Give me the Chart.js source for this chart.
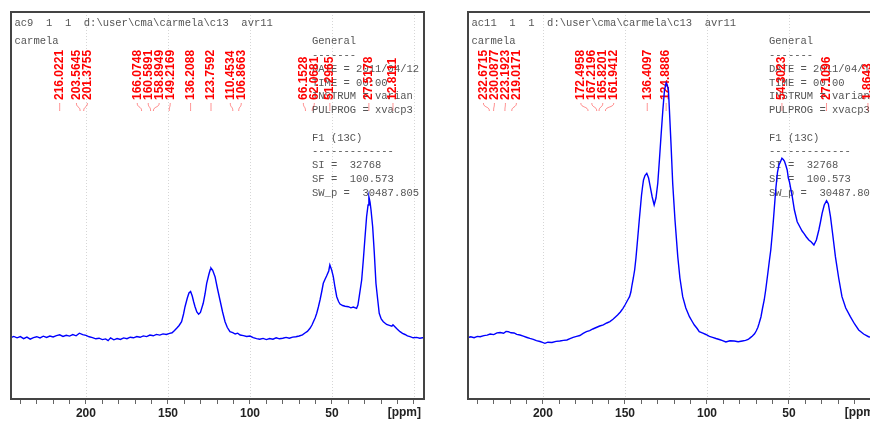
<!DOCTYPE html>
<html>
<head>
<meta charset="utf-8">
<script src="https://cdn.jsdelivr.net/npm/chart.js@4.4.0/dist/chart.umd.min.js"></script>
<style>
  html, body { margin: 0; padding: 0; background: #fff; overflow: hidden; width: 870px; height: 423px; }
  .panel { position: absolute; top: 0; width: 435px; height: 423px; }
  #p1 { left: 0; }
  #p2 { left: 457px; }
</style>
</head>
<body>
<div class="panel" id="p1"><canvas id="c1" width="435" height="423"></canvas></div>
<div class="panel" id="p2"><canvas id="c2" width="435" height="423"></canvas></div>
<script>
// axis
const ppmTicks = [240, 230, 220, 210, 200, 190, 180, 170, 160, 150, 140, 130, 120, 110, 100, 90, 80, 70, 60, 50, 40, 30, 20, 10, 0];
const labelledTicks = [200, 150, 100, 50];
const gridPpm = [200, 150, 100, 50, 0];

// ac9 spectrum
const ppm1 = [
  245.7, 244, 242, 240, 238, 236, 234, 232, 230, 228,
  226, 224, 222, 220, 218, 216, 214, 212, 210, 208,
  206, 204, 202, 200, 198, 196, 194, 192, 190, 188,
  186.5, 185, 183, 181, 179, 177, 175, 173, 171, 169,
  167, 165, 163, 161, 159, 157, 155, 153, 151, 149,
  147.5, 146, 144.7, 143.2, 141.7, 140.5, 139.6, 138.2, 137.2, 136.2,
  135.2, 134.3, 133.5, 132.4, 131.3, 130.2, 128.5, 127.4, 126.4, 125,
  124.2, 123.8, 122.8, 121.3, 119.9, 118.3, 116.7, 115.2, 113.8, 112.2,
  110.5, 109, 107.5, 106, 104, 102, 100, 98, 96, 94,
  92, 90, 88, 86, 84, 82, 80, 78, 76, 74,
  72, 70, 68, 66.5, 65, 63.4, 62.2, 61.4, 60.3, 59.3,
  58.3, 57.3, 56.3, 55.3, 54.3, 53.3, 52, 51.3, 50.2, 49.2,
  48.1, 47.1, 46, 45.1, 43.5, 42, 40, 38.5, 37, 35,
  34.2, 33.4, 31.9, 30.9, 29.9, 28.9, 28, 27.5, 26.8, 26.2,
  25.2, 24.2, 23.2, 22.1, 21.2, 20, 18.7, 16.7, 14.6, 13.5,
  12.8, 11.8, 10.6, 9.5, 8.5, 7, 5.5, 4, 2.4, 0.5,
  -1.6, -3.5, -6.1
];
const int1 = [
  0.5, 1.6, 0.2, 1.4, -0.6, 0.9, -1.2, 0.4, 1.3, 0.1,
  1.8, 0.6, 2.0, 1.1, 2.4, 3.2, 1.6, 2.7, 1.9, 3.4,
  2.2, 4.8, 3.4, 2.6, 1.2, 0.4, -0.8, -0.2, -1.6, -0.9,
  -2.6, 0.2, -1.8, -0.6, -1.4, 0.1, -0.7, 0.8, 0.2, 1.5,
  0.7, 2.1, 1.4, 2.9, 2.2, 3.6, 2.9, 4.1, 3.5, 4.6,
  5.2, 7.4, 9.7, 12.5, 16.3, 24, 31.3, 40, 45, 46.5,
  42, 36, 31.3, 26, 23.7, 25.5, 34.7, 44, 54.7, 64,
  68.5, 70, 68, 61.3, 50, 38, 26, 16.3, 10.5, 6.3,
  5.4, 4.0, 4.8, 3.0, 2.4, 1.5, 2.0, 0.4, -0.6, -1.3,
  -0.4, -1.6, -0.5, -1.2, 0.2, -0.8, -0.3, 0.6, -0.2, 0.9,
  1.2, 2.0, 3.1, 5.0, 6.6, 9.7, 13, 16, 20, 24.7,
  31, 38, 46, 54.7, 58.5, 62, 67, 73, 68, 61.3,
  50, 41.3, 36.5, 34, 32.5, 31.8, 31.3, 30.2, 31, 29.7,
  33, 41.3, 58, 78, 100, 121.3, 133, 141.3, 136, 128,
  111.3, 85, 54.7, 38, 24.7, 19, 16.3, 13.5, 12.4, 11.8,
  13.2, 11.6, 9.5, 7.8, 6.3, 4.6, 3.5, 2.1, 1.3, 0.2,
  0.6, -0.2, 0.5
];
const peaks1 = [216.0221, 203.5645, 201.3755, 166.0748, 160.5891, 158.8949, 149.2169, 136.2088,
  123.7592, 110.4534, 106.8663, 66.1528, 62.0681, 51.2965, 27.5178, 12.8111];

// ac11 spectrum
const ppm2 = [
  245.7, 244, 242, 240, 238.3, 236, 234, 232.2, 230, 228,
  226.1, 224, 222.5, 221.1, 219.5, 217.6, 216, 214, 212, 209.7,
  208, 205.9, 204, 201.8, 200.3, 198.8, 197, 194.5, 192, 189.7,
  187.5, 185.4, 183.5, 181.6, 179.5, 177.5, 175.5, 173.5, 171.5, 169.6,
  167.5, 165.4, 163.2, 161.1, 159.2, 157.3, 155.8, 154.5, 152.8, 151.2,
  150, 149, 148, 147.2, 146.4, 145.7, 144.9, 144.1, 143.3, 142.6,
  141.8, 141.1, 140.5, 139.9, 139.3, 138.7, 137.8, 136.7, 135.6, 134.6,
  133.4, 132.2, 131.1, 130, 129, 127.9, 126.9, 125.9, 124.9, 124.2,
  123.5, 122.9, 121.9, 120.9, 119.5, 117.8, 116.5, 114.8, 112.9, 110.7,
  109, 107.7, 106, 104.7, 102.5, 100.7, 98.5, 96.6, 94.5, 92.5,
  90.5, 88.5, 86, 83.4, 81, 78.4, 76.5, 74.9, 73.5, 72.3,
  71, 70, 69, 68.2, 67.1, 66.1, 65.1, 64.2, 63.5, 62.8,
  61.9, 61.1, 60.2, 59.4, 58.7, 58.1, 57, 56.1, 55, 54.3,
  53.5, 52.8, 51.9, 51.1, 50.4, 49.7, 48.8, 48, 46.7, 45,
  43, 42, 40.9, 39.4, 37.9, 36.4, 34.8, 33.3, 31.8, 30.8,
  29.8, 28.5, 27.1, 26, 24.7, 23.3, 21.7, 19.7, 17.7, 15.4,
  12.6, 10, 7.5, 4.5, 1.5, -2.2, -6.1
];
const int2 = [
  0.4, 1.2, 0.3, 1.6, 1.3, 2.4, 2.9, 4, 3.4, 5.1,
  5.5, 4.8, 6.6, 6.3, 5.2, 5, 3.6, 3, 1.8, 0.5,
  -0.4, -1.3, -2.6, -3.5, -4.4, -5.3, -4.2, -4.5, -3.4, -3,
  -2.4, -2, -0.6, 0.7, 1.6, 2.5, 4.6, 6.3, 7.4, 9,
  10.5, 12, 13.2, 15, 16.4, 18.7, 21, 23, 26, 29.7,
  33, 36, 39, 41.3, 46, 53, 60, 68, 80, 93,
  108, 121.3, 132, 143, 151, 158, 162.5, 164.7, 160, 151.3,
  141, 133, 140, 154.7, 178, 204.7, 228, 248, 255, 253,
  248, 228, 193, 154.7, 118, 81.3, 60, 41.3, 30, 21.3,
  16.5, 13, 9.5, 6.3, 4.8, 3.5, 1.6, 0.7, -0.5, -1.5,
  -2.6, -4, -2.8, -3, -3.8, -3, -2.4, -1.5, 0.4, 2,
  4.2, 7, 10.5, 14.7, 21, 30, 38, 48, 57, 66,
  78, 88, 104, 120, 135, 148, 166, 173, 177, 179.7,
  178.5, 177, 172.5, 168, 160, 156, 148, 141.3, 128, 116.3,
  110, 107, 104.7, 101, 98, 96, 93, 98, 108, 116,
  124.7, 133, 137.3, 134, 121.3, 103, 81.3, 60, 41.3, 30,
  21.3, 14, 8, 4, 1.3, 0.5, 0.3
];
const peaks2 = [232.6715, 230.0877, 223.1923, 219.0171, 172.4958, 167.2196, 165.8201, 161.9412,
  136.4097, 124.8886, 54.3023, 27.1096, 1.8643];

const sampleName = 'carmela';
const info = ['General', '-------', 'DATE = 2011/04/12', 'TIME = 00:00', 'INSTRUM = varian',
  'PULPROG = xvacp3', '', 'F1 (13C)', '-------------', 'SI =  32768', 'SF =  100.573', 'SW_p =  30487.805'];

const monoFont = '10.5px "Liberation Mono", "Courier New", monospace';
const boldFont = 'bold 12px "Liberation Sans", Arial, sans-serif';

// push crowded peak labels apart, keeping each group centred on its peaks
function spreadLabels(xs, gap) {
  let groups = xs.map(x => ({ n: 1, sum: x, start: x }));
  let merged = true;
  while (merged) {
    merged = false;
    for (let i = 0; i < groups.length - 1; i++) {
      const a = groups[i], b = groups[i + 1];
      if (a.start + a.n * gap > b.start) {
        const n = a.n + b.n, sum = a.sum + b.sum;
        groups.splice(i, 2, { n, sum, start: sum / n - (n - 1) * gap / 2 });
        merged = true;
        break;
      }
    }
  }
  const out = [];
  groups.forEach(g => { for (let k = 0; k < g.n; k++) out.push(g.start + k * gap); });
  return out;
}

function nmrDecor(title, peaks) {
  return {
    id: 'nmrDecor',
    beforeDatasetsDraw(chart) {
      const { ctx, chartArea: a, scales: { x } } = chart;
      ctx.save();

      ctx.strokeStyle = '#d6d6d6';
      ctx.lineWidth = 1;
      ctx.setLineDash([1, 2]);
      gridPpm.forEach(v => {
        const px = Math.round(x.getPixelForValue(v)) + 0.5;
        ctx.beginPath();
        ctx.moveTo(px, a.top);
        ctx.lineTo(px, a.bottom);
        ctx.stroke();
      });
      ctx.setLineDash([]);

      ctx.font = monoFont;
      ctx.fillStyle = '#555';
      ctx.textAlign = 'left';
      ctx.textBaseline = 'middle';
      ctx.fillText(title, a.left + 3.5, 23.5);
      ctx.fillText(sampleName, a.left + 3.5, 41.5);
      info.forEach((t, i) => ctx.fillText(t, a.left + 301, 41.5 + i * 13.75));

      // peak picking labels
      const px = peaks.map(p => x.getPixelForValue(p));
      const order = px.map((p, i) => i).sort((i, j) => px[i] - px[j]);
      const sorted = order.map(i => px[i]);
      const lx = spreadLabels(sorted, 11);
      ctx.font = boldFont;
      ctx.fillStyle = '#ff0000';
      ctx.strokeStyle = 'rgba(255, 0, 0, 0.45)';
      ctx.lineWidth = 1;
      order.forEach((idx, k) => {
        ctx.save();
        ctx.translate(lx[k], 100);
        ctx.rotate(-Math.PI / 2);
        ctx.fillText(peaks[idx].toFixed(4), 0, 0);
        ctx.restore();
        ctx.beginPath();
        ctx.moveTo(lx[k], 103);
        ctx.bezierCurveTo(lx[k], 108, sorted[k], 106, sorted[k], 111);
        ctx.stroke();
      });
      ctx.restore();
    },
    afterDatasetsDraw(chart) {
      const { ctx, chartArea: a } = chart;
      ctx.save();
      ctx.strokeStyle = '#444';
      ctx.lineWidth = 2;
      ctx.strokeRect(a.left, a.top, a.right - a.left, a.bottom - a.top);
      ctx.font = boldFont;
      ctx.fillStyle = '#222';
      ctx.textAlign = 'right';
      ctx.textBaseline = 'middle';
      ctx.fillText('[ppm]', a.right - 3, 413);
      ctx.restore();
    }
  };
}

function drawSpectrum(canvasId, title, ppm, intensity, peaks) {
  const ctx = document.getElementById(canvasId).getContext('2d');
  return new Chart(ctx, {
    type: 'line',
    data: {
      datasets: [{
        data: ppm.map((p, i) => ({ x: p, y: intensity[i] })),
        borderColor: '#0000ff',
        borderWidth: 1.4,
        pointRadius: 0,
        tension: 0,
        fill: false
      }]
    },
    options: {
      responsive: false,
      animation: false,
      devicePixelRatio: 1,
      layout: { padding: { left: 11, right: 11, top: 12, bottom: 0 } },
      plugins: { legend: { display: false }, tooltip: { enabled: false } },
      scales: {
        x: {
          type: 'linear',
          reverse: true,
          min: -6.1,
          max: 245.7,
          afterBuildTicks(scale) { scale.ticks = ppmTicks.map(v => ({ value: v })); },
          afterFit(scale) { scale.height = 24; },
          ticks: {
            autoSkip: false,
            maxRotation: 0,
            padding: 2,
            color: '#222',
            font: { family: '"Liberation Sans", Arial, sans-serif', size: 12, weight: 'bold' },
            callback: v => labelledTicks.includes(v) ? String(v) : ''
          },
          grid: { drawOnChartArea: false, drawTicks: true, tickLength: 5, color: '#666' },
          border: { display: false }
        },
        y: { display: false, min: -61, max: 326 }
      }
    },
    plugins: [nmrDecor(title, peaks)]
  });
}

drawSpectrum('c1', 'ac9  1  1  d:\\user\\cma\\carmela\\c13  avr11', ppm1, int1, peaks1);
drawSpectrum('c2', 'ac11  1  1  d:\\user\\cma\\carmela\\c13  avr11', ppm2, int2, peaks2);
</script>
</body>
</html>
